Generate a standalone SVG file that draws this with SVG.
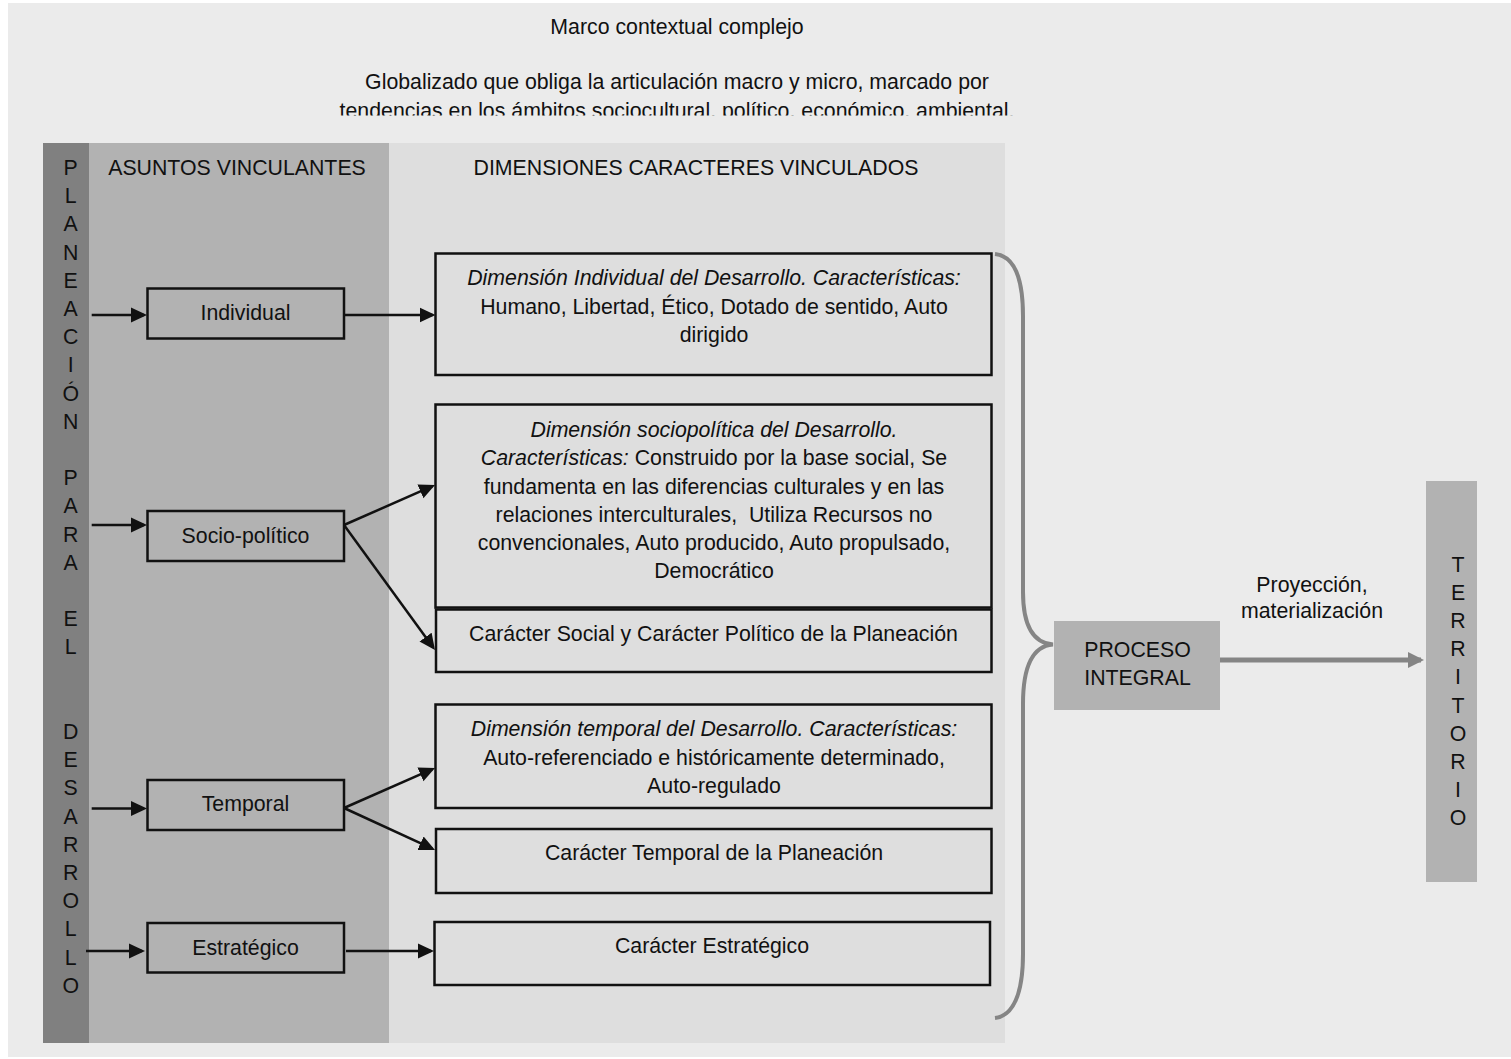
<svg xmlns="http://www.w3.org/2000/svg" width="1511" height="1059" viewBox="0 0 1511 1059">
<style>
text{font-family:"Liberation Sans",Arial,sans-serif;font-size:21.3px;fill:#111;}
.c{text-anchor:middle;}
.i{font-style:italic;}
.box{stroke:#111;stroke-width:2.5;}
.bm{fill:#b2b2b2;}
.bl{fill:#dedede;}
.ln{stroke:#111;stroke-width:2.5;fill:none;marker-end:url(#ah);}
.gl{stroke:#858585;stroke-width:5;fill:none;marker-end:url(#gh);}
</style>
<defs>
<marker id="ah" markerUnits="userSpaceOnUse" markerWidth="17" markerHeight="16" refX="13" refY="7.5" orient="auto" viewBox="0 0 17 15">
<path d="M0,0 L16,7.5 L0,15 Z" fill="#111"/>
</marker>
<marker id="gh" markerUnits="userSpaceOnUse" markerWidth="17" markerHeight="17" refX="13" refY="8" orient="auto" viewBox="0 0 17 16">
<path d="M0,0 L16,8 L0,16 Z" fill="#858585"/>
</marker>
<clipPath id="clipTitle"><rect x="0" y="0" width="1511" height="115.5"/></clipPath>
</defs>

<rect x="0" y="0" width="1511" height="1059" fill="#ffffff"/>
<rect x="8" y="3" width="1503" height="1054" fill="#ebebeb"/>

<g id="context">
<text class="c" x="677" y="34">Marco contextual complejo</text>
<g clip-path="url(#clipTitle)">
<text class="c" x="677" y="89">Globalizado que obliga la articulación macro y micro, marcado por</text>
<text class="c" x="677" y="118">tendencias en los ámbitos sociocultural, político, económico, ambiental.</text>
</g>
</g>

<g id="panel">
<rect x="43" y="143" width="46" height="900" fill="#808080"/>
<rect x="89" y="143" width="300" height="900" fill="#b2b2b2"/>
<rect x="389" y="143" width="616" height="900" fill="#dedede"/>
<text class="c" x="237" y="175">ASUNTOS VINCULANTES</text>
<text class="c" x="696" y="175">DIMENSIONES CARACTERES VINCULADOS</text>
</g>

<g id="planeacion">
<text class="c" x="70.7" y="175">P<tspan x="70.7" dy="28.2">L</tspan><tspan x="70.7" dy="28.2">A</tspan><tspan x="70.7" dy="28.2">N</tspan><tspan x="70.7" dy="28.2">E</tspan><tspan x="70.7" dy="28.2">A</tspan><tspan x="70.7" dy="28.2">C</tspan><tspan x="70.7" dy="28.2">I</tspan><tspan x="70.7" dy="28.2">Ó</tspan><tspan x="70.7" dy="28.2">N</tspan><tspan x="70.7" dy="56.4">P</tspan><tspan x="70.7" dy="28.2">A</tspan><tspan x="70.7" dy="28.2">R</tspan><tspan x="70.7" dy="28.2">A</tspan><tspan x="70.7" dy="56.4">E</tspan><tspan x="70.7" dy="28.2">L</tspan><tspan x="70.7" dy="84.6">D</tspan><tspan x="70.7" dy="28.2">E</tspan><tspan x="70.7" dy="28.2">S</tspan><tspan x="70.7" dy="28.2">A</tspan><tspan x="70.7" dy="28.2">R</tspan><tspan x="70.7" dy="28.2">R</tspan><tspan x="70.7" dy="28.2">O</tspan><tspan x="70.7" dy="28.2">L</tspan><tspan x="70.7" dy="28.2">L</tspan><tspan x="70.7" dy="28.2">O</tspan></text>
</g>

<g id="individual">
<rect class="box bm" x="147.5" y="288.5" width="196.5" height="50"/>
<text class="c" x="245.5" y="320">Individual</text>
</g>
<g id="sociopolitico">
<rect class="box bm" x="147.5" y="511" width="196.5" height="50"/>
<text class="c" x="245.5" y="543">Socio-político</text>
</g>
<g id="temporal">
<rect class="box bm" x="147.5" y="780" width="196.5" height="50"/>
<text class="c" x="245.5" y="811">Temporal</text>
</g>
<g id="estrategico">
<rect class="box bm" x="147.5" y="923" width="196.5" height="49.5"/>
<text class="c" x="245.5" y="955">Estratégico</text>
</g>

<g id="dim-individual">
<rect class="box bl" x="435.5" y="253.5" width="556" height="121.5"/>
<text class="c i" x="714" y="285">Dimensión Individual del Desarrollo. Características:</text>
<text class="c" x="714" y="313.5">Humano, Libertad, Ético, Dotado de sentido, Auto</text>
<text class="c" x="714" y="342">dirigido</text>
</g>
<g id="dim-sociopolitica">
<rect class="box bl" x="435.5" y="404.5" width="556" height="203"/>
<text class="c i" x="714" y="437">Dimensión sociopolítica del Desarrollo.</text>
<text class="c" x="714" y="465"><tspan font-style="italic">Características:</tspan> Construido por la base social, Se</text>
<text class="c" x="714" y="493.5">fundamenta en las diferencias culturales y en las</text>
<text class="c" x="714" y="522" xml:space="preserve">relaciones interculturales,  Utiliza Recursos no</text>
<text class="c" x="714" y="550">convencionales, Auto producido, Auto propulsado,</text>
<text class="c" x="714" y="578">Democrático</text>
</g>
<g id="caracter-social">
<rect class="box bl" x="436" y="609.5" width="555.5" height="62.5"/>
<text class="c" x="713.5" y="641">Carácter Social y Carácter Político de la Planeación</text>
</g>
<g id="dim-temporal">
<rect class="box bl" x="435.5" y="704.5" width="556" height="103.5"/>
<text class="c i" x="714" y="736">Dimensión temporal del Desarrollo. Características:</text>
<text class="c" x="714" y="764.5">Auto-referenciado e históricamente determinado,</text>
<text class="c" x="714" y="793">Auto-regulado</text>
</g>
<g id="caracter-temporal">
<rect class="box bl" x="436" y="829" width="555.5" height="64"/>
<text class="c" x="714" y="860">Carácter Temporal de la Planeación</text>
</g>
<g id="caracter-estrategico">
<rect class="box bl" x="434.5" y="922" width="555.5" height="63"/>
<text class="c" x="712" y="953.3">Carácter Estratégico</text>
</g>

<g id="proceso-integral">
<rect x="1054" y="621" width="166" height="89" fill="#b2b2b2"/>
<text class="c" x="1137.5" y="657">PROCESO</text>
<text class="c" x="1137.5" y="685">INTEGRAL</text>
</g>

<g id="territorio">
<rect x="1426" y="481" width="51" height="401" fill="#b2b2b2"/>
<text class="c" x="1458" y="572">T<tspan x="1458" dy="28.1">E</tspan><tspan x="1458" dy="28.1">R</tspan><tspan x="1458" dy="28.1">R</tspan><tspan x="1458" dy="28.1">I</tspan><tspan x="1458" dy="28.1">T</tspan><tspan x="1458" dy="28.1">O</tspan><tspan x="1458" dy="28.1">R</tspan><tspan x="1458" dy="28.1">I</tspan><tspan x="1458" dy="28.1">O</tspan></text>
</g>

<g id="connectors">
<line class="ln" x1="91.7" y1="315" x2="144" y2="315"/>
<line class="ln" x1="344" y1="315" x2="432.5" y2="315"/>
<line class="ln" x1="91.7" y1="525" x2="144" y2="525"/>
<line class="ln" x1="344" y1="525" x2="432.3" y2="486.2"/>
<line class="ln" x1="344" y1="525" x2="433.2" y2="647.6"/>
<line class="ln" x1="91.7" y1="808.5" x2="144" y2="808.5"/>
<line class="ln" x1="344" y1="808" x2="432.3" y2="769.2"/>
<line class="ln" x1="344" y1="808" x2="432.3" y2="848.7"/>
<line class="ln" x1="86" y1="951" x2="142" y2="951"/>
<line class="ln" x1="346" y1="951" x2="431" y2="951"/>
<path d="M995,254 C1014,256 1023,278 1023,316 L1023,592 C1023,626 1034,643 1053,644.6 C1034,646 1023,664 1023,704 L1023,954 C1023,994 1013,1016 995,1018" fill="none" stroke="#858585" stroke-width="4"/>
<line class="gl" x1="1220" y1="660" x2="1421" y2="660"/>
<text class="c" x="1312" y="592">Proyección,</text>
<text class="c" x="1312" y="618">materialización</text>
</g>
</svg>
